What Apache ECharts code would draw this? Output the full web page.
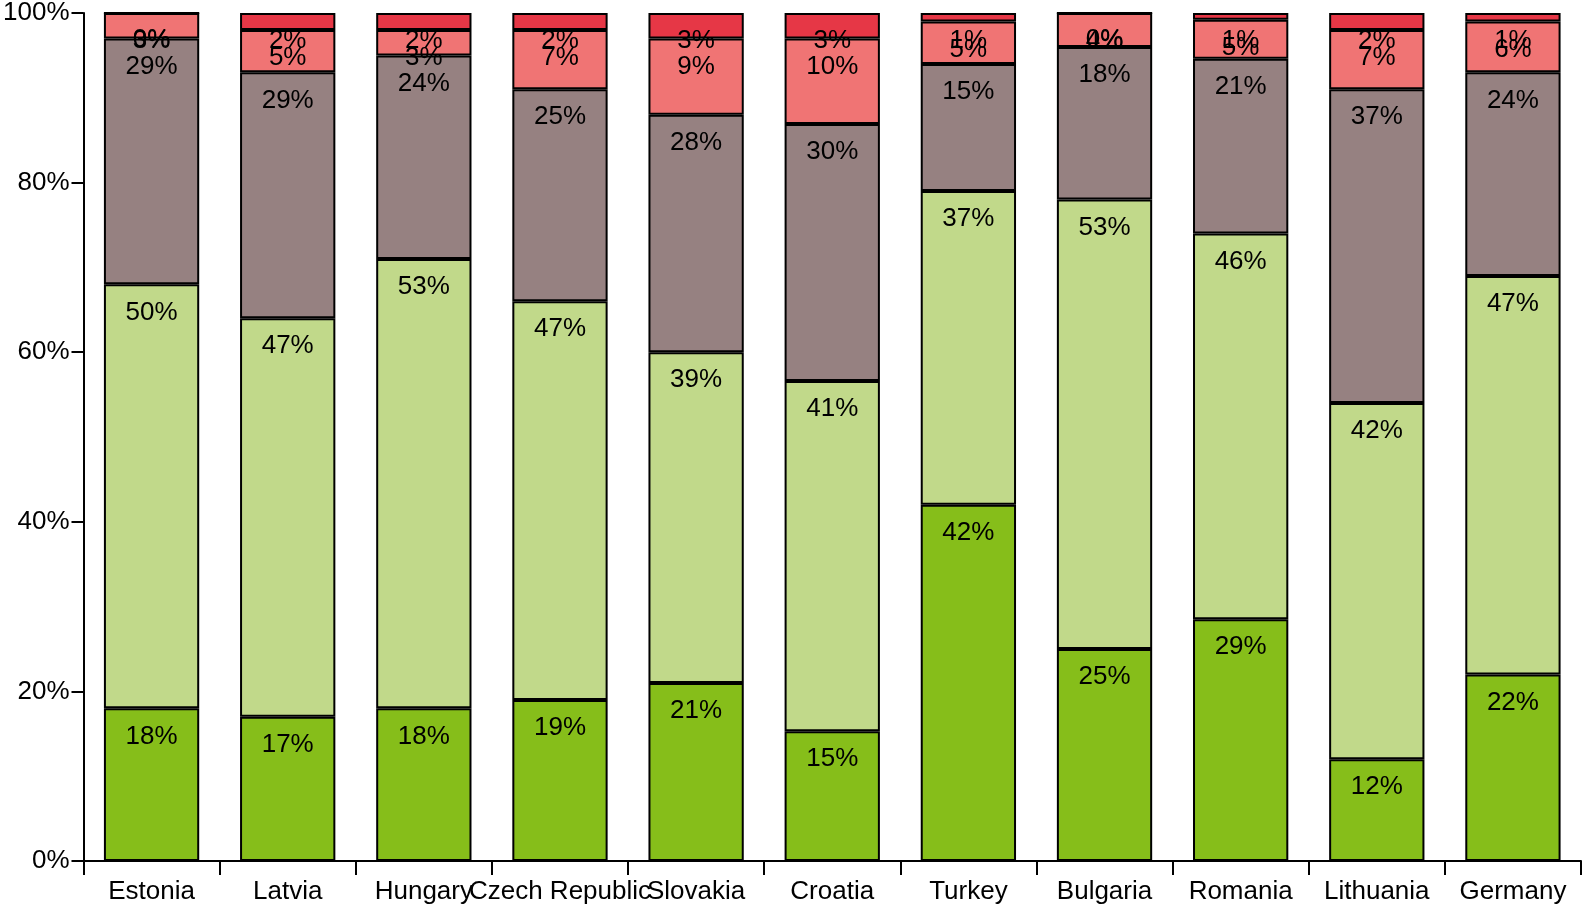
<!DOCTYPE html>
<html>
<head>
<meta charset="utf-8">
<style>
  html, body { margin: 0; padding: 0; background: #fff; }
  #chart { width: 1583px; height: 907px; }
</style>
<script src="https://cdn.jsdelivr.net/npm/echarts@6/dist/echarts.min.js"></script>
</head>
<body>
<div id="chart"></div>
<script>
const categories = ["Estonia", "Latvia", "Hungary", "Czech Republic", "Slovakia", "Croatia", "Turkey", "Bulgaria", "Romania", "Lithuania", "Germany"];
const seriesDarkGreen  = [18, 17, 18, 19, 21, 15.3, 42, 25, 28.5, 12, 22];
const seriesLightGreen = [50, 47, 53, 47, 39, 41.3, 37, 53, 45.5, 42, 47];
const seriesMauve      = [29, 29, 24, 25, 28, 30.3, 15, 18, 20.6, 37, 24];
const seriesSalmon     = [3, 5, 3, 7, 9, 10.1, 5, 4, 4.6, 7, 6];
const seriesRed        = [0, 2, 2, 2, 3, 3, 1, 0, 0.8, 2, 1];
const yTickLabels = ["0%", "20%", "40%", "60%", "80%", "100%"];

const colors = ["#86BE1A", "#C1D98A", "#968181", "#F07474", "#E63746"];
const dataSets = [seriesDarkGreen, seriesLightGreen, seriesMauve, seriesSalmon, seriesRed];
const FONT = "'Liberation Sans', Arial, sans-serif";

const chart = echarts.init(document.getElementById('chart'), null, { renderer: 'canvas' });

const series = dataSets.map((d, i) => ({
  type: 'bar',
  stack: 'total',
  data: d,
  barWidth: '70%',
  itemStyle: { color: colors[i], borderColor: '#000', borderWidth: 2 },
  label: {
    show: true,
    position: 'insideTop',
    distance: 15,
    color: '#000',
    fontSize: 26,
    fontFamily: FONT,
    formatter: p => Math.round(p.value) + '%'
  },
  emphasis: { disabled: true },
  animation: false
}));

chart.setOption({
  animation: false,
  grid: { left: 83, right: 2, top: 11, bottom: 46, containLabel: false },
  xAxis: {
    type: 'category',
    data: categories,
    axisLine: { lineStyle: { color: '#000', width: 2 } },
    axisTick: { show: true, length: 14, alignWithLabel: false, lineStyle: { color: '#000', width: 2 } },
    axisLabel: { interval: 0, hideOverlap: false, color: '#000', fontSize: 26, fontFamily: FONT, margin: 18 }
  },
  yAxis: {
    type: 'value',
    min: 0, max: 100, interval: 20,
    axisLine: { show: true, lineStyle: { color: '#000', width: 2 } },
    axisTick: { show: true, length: 12, lineStyle: { color: '#000', width: 2 } },
    splitLine: { show: false },
    axisLabel: {
      color: '#000', fontSize: 26, fontFamily: FONT, margin: 14,
      formatter: v => yTickLabels[Math.round(v / 20)]
    }
  },
  series: series
});
</script>
</body>
</html>
